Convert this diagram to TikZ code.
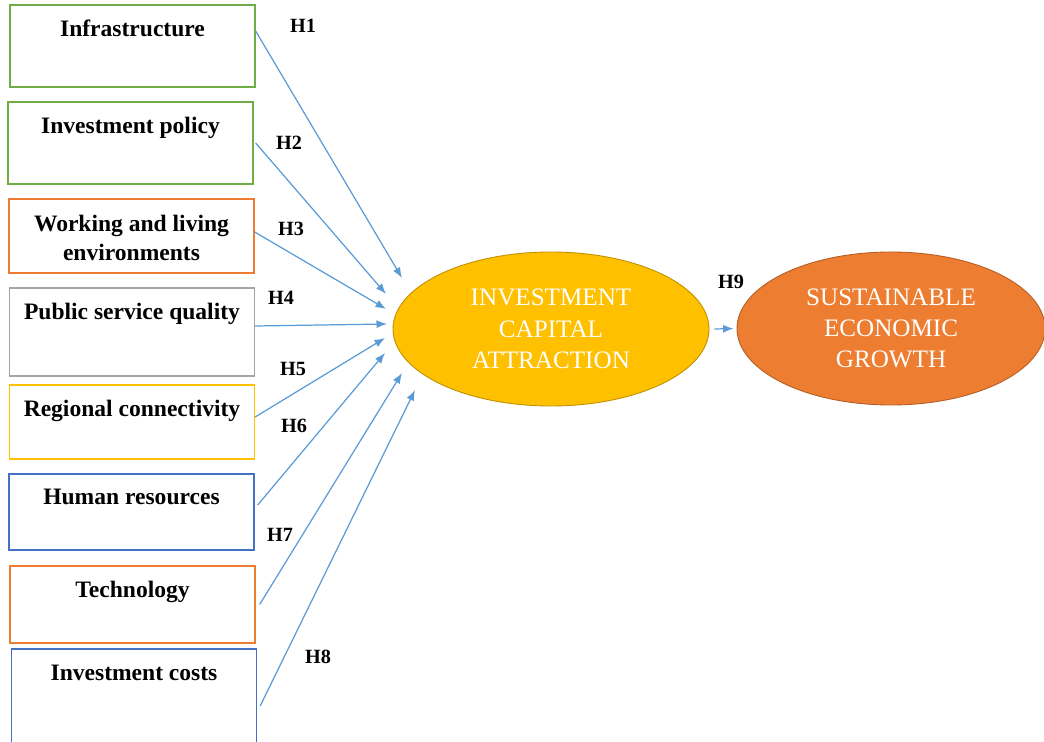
\documentclass[tikz,border=0pt]{standalone}
\usepackage{fontspec}
\setmainfont{Liberation Serif}
\usetikzlibrary{arrows.meta,shapes.geometric}

\definecolor{boxgreen}{HTML}{70AD47}
\definecolor{boxorange}{HTML}{ED7D31}
\definecolor{boxgray}{HTML}{A5A5A5}
\definecolor{boxgold}{HTML}{FFC000}
\definecolor{boxblue}{HTML}{4472C4}
\definecolor{linkblue}{HTML}{5B9BD5}

\tikzset{
	factor/.style={draw=#1, line width=0.75pt, minimum width=49mm, inner sep=0pt},
	ftext/.style={font=\fontsize{13.4}{16.5}\selectfont\bfseries, align=center, anchor=base},
	hyp/.style={font=\fontsize{11.5}{13}\selectfont\bfseries},
	bubble/.style={ellipse, fill=#1, draw=#1!75!black, line width=0.5pt, inner sep=0pt,
		text=white, align=center, font=\fontsize{14.3}{17.8}\selectfont},
	link/.style={->, draw=linkblue, line width=0.7pt},
}

\begin{document}
\begin{tikzpicture}[x=0.2mm, y=-0.2mm, >={Latex[length=2.1mm,width=1.6mm]}]
				\useasboundingbox (0,0) rectangle (1044,742);

				% Factor boxes
				\node[factor=boxgreen, minimum height=16.4mm] (infra) at (132.5,46) {};
				\node[factor=boxgreen, minimum height=16.4mm] (policy) at (130.5,143) {};
				\node[factor=boxorange, minimum height=14.8mm] (envir) at (131.5,236) {};
				\node[factor=boxgray, minimum height=17.6mm] (public) at (132,332) {};
				\node[factor=boxgold, minimum height=14.8mm] (region) at (132,422) {};
				\node[factor=boxblue, minimum height=15.2mm] (human) at (131.5,512) {};
				\node[factor=boxorange, minimum height=15.4mm] (tech) at (132.5,604.5) {};
				\node[factor=boxblue, minimum height=20mm] (costs) at (134,699) {};

				% Box texts
				\node[ftext] (infraL) at ([yshift=-6.4mm]infra.north) {Infrastructure};
				\node[ftext] (policyL) at ([yshift=-6.5mm]policy.north) {Investment policy};
				\node[ftext, anchor=center] (envirL) at (131.5,238) {Working and living\\environments};
				\node[ftext] (publicL) at ([yshift=-6.4mm]public.north) {Public service quality};
				\node[ftext] (regionL) at ([yshift=-6.4mm]region.north) {Regional connectivity};
				\node[ftext] (humanL) at ([yshift=-6.3mm]human.north) {Human resources};
				\node[ftext] (techL) at ([yshift=-6.4mm]tech.north) {Technology};
				\node[ftext] (costsL) at ([yshift=-6.4mm]costs.north) {Investment costs};

				% Constructs
				\node[bubble=boxgold, minimum width=63.2mm, minimum height=30.8mm] (ica) at (551,329) {INVESTMENT\\CAPITAL\\ATTRACTION};
				\node[bubble=boxorange, minimum width=61.6mm, minimum height=30.6mm] (seg) at (891,328.5) {SUSTAINABLE\\ECONOMIC\\GROWTH};

				% Arrow tips near the ellipse
				\coordinate (t1) at (402,278);
				\coordinate (t2) at (386,294);
				\coordinate (t3) at (386,309);
				\coordinate (t4) at (387,324);
				\coordinate (t5) at (385,338);
				\coordinate (t6) at (385,353);
				\coordinate (t7) at (402,373);
				\coordinate (t8) at (415,390);

				% Connections
				\draw[link] ([yshift=3mm]infra.east) -- (t1);
				\draw[link] ([xshift=0.4mm]policy.east) -- (t2);
				\draw[link] ([yshift=0.8mm]envir.east) -- (t3);
				\draw[link] ([yshift=1.2mm]public.east) -- (t4);
				\draw[link] ([yshift=1mm]region.east) -- (t5);
				\draw[link] ([xshift=0.6mm,yshift=1.4mm]human.east) -- (t6);
				\draw[link] ([xshift=0.8mm]tech.east) -- (t7);
				\draw[link] ([xshift=0.6mm,yshift=-1.4mm]costs.east) -- (t8);
				\draw[link, shorten >=0.6mm] ([xshift=1mm]ica.east) -- (seg.west);

				% Hypotheses
				\node[hyp] (h1) at (303,26) {H1};
				\node[hyp] (h2) at (289,143) {H2};
				\node[hyp] (h3) at (291,229) {H3};
				\node[hyp] (h4) at (281,298) {H4};
				\node[hyp] (h5) at (293,369) {H5};
				\node[hyp] (h6) at (294,426) {H6};
				\node[hyp] (h7) at (280,535) {H7};
				\node[hyp] (h8) at (318,657) {H8};
				\node[hyp] (h9) at (731,282) {H9};

\end{tikzpicture}
\end{document}
